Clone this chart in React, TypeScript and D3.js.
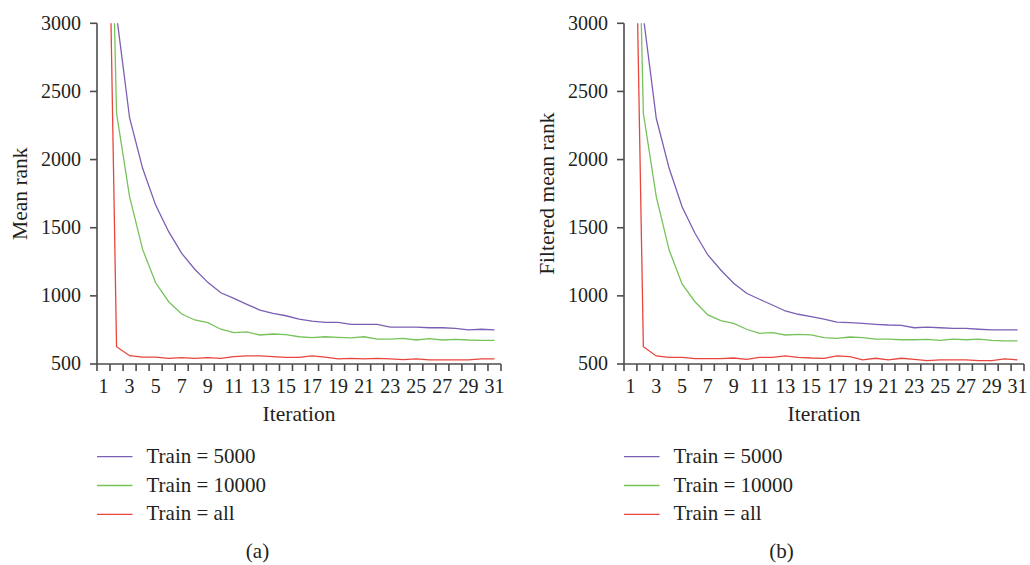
import React from "react"
import * as d3 from "d3"

// iterations on the x axis
const iterations = [1, 2, 3, 4, 5, 6, 7, 8, 9, 10, 11, 12, 13, 14, 15, 16, 17, 18, 19, 20, 21, 22, 23, 24, 25, 26, 27, 28, 29, 30, 31]
const xTickLabels = [1, 3, 5, 7, 9, 11, 13, 15, 17, 19, 21, 23, 25, 27, 29, 31]
const yTickLabels = [500, 1000, 1500, 2000, 2500, 3000]

const seriesNames = ["Train = 5000", "Train = 10000", "Train = all"]
const seriesColors = ["#7c5fb4", "#77c25a", "#e8453d"]

// (a) mean rank
const meanRank5000 = [5000, 3060, 2307, 1936, 1666, 1471, 1312, 1195, 1099, 1023, 982, 938, 896, 872, 854, 830, 815, 806, 806, 791, 791, 791, 771, 771, 771, 766, 766, 761, 750, 755, 750]
const meanRank10000 = [6500, 2340, 1728, 1341, 1096, 957, 867, 823, 803, 755, 730, 735, 713, 720, 715, 700, 693, 700, 696, 691, 700, 683, 683, 688, 676, 686, 676, 681, 676, 674, 674]
const meanRankAll = [6200, 627, 561, 551, 551, 542, 547, 542, 547, 542, 554, 559, 559, 554, 549, 549, 559, 551, 537, 542, 537, 542, 537, 532, 537, 530, 530, 530, 530, 537, 537]

// (b) filtered mean rank
const filtered5000 = [5000, 3050, 2303, 1936, 1654, 1459, 1300, 1190, 1092, 1019, 975, 933, 889, 865, 847, 830, 808, 803, 798, 791, 786, 784, 766, 771, 766, 761, 761, 755, 750, 750, 750]
const filtered10000 = [6500, 2340, 1728, 1336, 1087, 957, 860, 818, 798, 755, 725, 730, 713, 718, 713, 693, 688, 698, 693, 683, 683, 678, 678, 681, 674, 683, 678, 683, 674, 669, 669]
const filteredAll = [6000, 627, 559, 549, 549, 539, 539, 539, 544, 534, 549, 549, 559, 549, 544, 542, 559, 554, 530, 542, 530, 542, 534, 525, 530, 530, 530, 525, 525, 537, 530]

const panels = [
    { id: "a", left: 97, right: 501, yLabel: "Mean rank", caption: "(a)", captionX: 257.5, series: [meanRank5000, meanRank10000, meanRankAll] },
    { id: "b", left: 624, right: 1024, yLabel: "Filtered mean rank", caption: "(b)", captionX: 781.5, series: [filtered5000, filtered10000, filteredAll] },
]

const FONT = "Liberation Serif"
const TEXT = "#231f20"
const AXIS = "#4d4d4d"
const TOP = 23.3
const BOTTOM = 364

function Panel({ p }) {
    const x = d3.scaleLinear().domain([0.5, 31.5]).range([p.left, p.right])
    const y = d3.scaleLinear().domain([500, 3000]).range([BOTTOM, TOP])
    const line = d3.line().x((d, i) => x(iterations[i])).y(d => y(d))
    const edges = iterations.map(i => i - 0.5).concat([31.5])
    const clipId = "clip-" + p.id

    return (
        <g>
            <clipPath id={clipId}>
                <rect x={p.left} y={y(3000)} width={p.right - p.left} height={y(0) - y(3000)} />
            </clipPath>

            {p.series.map((values, k) => (
                <path key={k} d={line(values)} clipPath={"url(#" + clipId + ")"}
                    fill="none" stroke={seriesColors[k]} strokeWidth={1.3} />
            ))}

            {/* y axis */}
            <line x1={p.left} x2={p.left} y1={y(500)} y2={y(3000)} stroke={AXIS} strokeWidth={1.6} />
            {yTickLabels.map(v => (
                <g key={v} transform={"translate(0," + y(v) + ")"}>
                    <line x1={p.left - 7} x2={p.left} stroke={AXIS} strokeWidth={1.6} />
                    <text x={p.left - 16} dy="0.32em" textAnchor="end" fontSize={20}
                        fontFamily={FONT} fill={TEXT}>{d3.format("d")(v)}</text>
                </g>
            ))}

            {/* x axis */}
            <line x1={x(0.5)} x2={x(31.5)} y1={BOTTOM} y2={BOTTOM} stroke={AXIS} strokeWidth={1.6} />
            {edges.map(e => (
                <line key={e} x1={x(e)} x2={x(e)} y1={BOTTOM} y2={BOTTOM + 7} stroke={AXIS} strokeWidth={1.6} />
            ))}
            {xTickLabels.map(v => (
                <text key={v} x={x(v)} y={BOTTOM + 29} textAnchor="middle" fontSize={20}
                    fontFamily={FONT} fill={TEXT}>{v}</text>
            ))}

            <text x={(p.left + p.right) / 2} y={421} textAnchor="middle" fontSize={21.5}
                fontFamily={FONT} fill={TEXT}>Iteration</text>
            <text transform={"translate(" + (p.left - 70) + "," + (TOP + BOTTOM) / 2 + ") rotate(-90)"}
                textAnchor="middle" fontSize={21.5} fontFamily={FONT} fill={TEXT}>{p.yLabel}</text>

            {/* legend */}
            {seriesNames.map((name, k) => {
                const ly = 456.7 + k * 28.8
                return (
                    <g key={name}>
                        <line x1={p.left} x2={p.left + 35.5} y1={ly} y2={ly} stroke={seriesColors[k]} strokeWidth={1.3} />
                        <text x={p.left + 49.5} y={ly + 6} fontSize={21} fontFamily={FONT} fill={TEXT}>{name}</text>
                    </g>
                )
            })}

            <text x={p.captionX} y={558} textAnchor="middle" fontSize={21} fontFamily={FONT} fill={TEXT}>{p.caption}</text>
        </g>
    )
}

export default function App() {
    return (
        <svg width={1030} height={565} style={{ position: "absolute", left: 0, top: 0, background: "#fff" }}>
            {panels.map(p => <Panel key={p.id} p={p} />)}
        </svg>
    )
}
